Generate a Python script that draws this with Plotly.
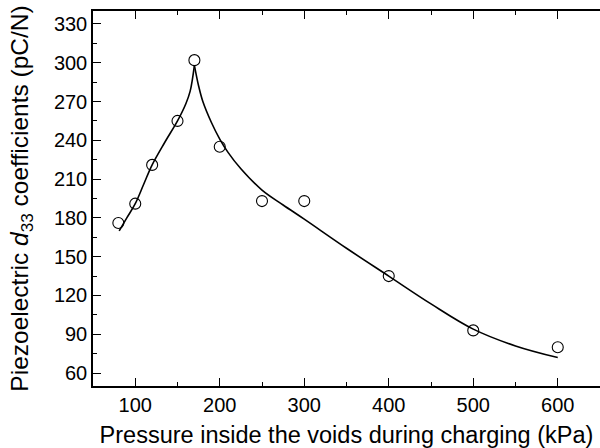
import plotly.graph_objects as go

# measured data points
pressure = [80, 100, 120, 150, 170, 200, 250, 300, 400, 500, 600]
d33 = [176, 191, 221, 255, 302, 235, 193, 193, 135, 93, 80]

# fitted curve; peak at 170 kPa
fit_x = [81, 90, 100, 110, 120, 135, 150, 160, 165, 170,
         175, 180, 190, 200, 210, 225, 250, 275, 300, 350, 400, 450, 500, 550, 600]
fit_y = [170, 180, 191, 206, 221, 238.5, 255, 268.5, 278, 298,
         282, 270, 254, 241, 230.5, 218, 201.5, 190, 179, 156.5, 135, 113.5, 94, 81, 72]

FONT = "Liberation Sans, Arial, sans-serif"
peak = fit_x.index(170)

fig = go.Figure()
for xs, ys in [(fit_x[:peak + 1], fit_y[:peak + 1]), (fit_x[peak:], fit_y[peak:])]:
    fig.add_trace(go.Scatter(x=xs, y=ys, mode="lines",
                             line=dict(color="black", width=1.6, shape="spline", smoothing=1.0),
                             showlegend=False, hoverinfo="skip"))
fig.add_trace(go.Scatter(x=pressure, y=d33, mode="markers",
                         marker=dict(symbol="circle-open", size=11, color="black",
                                     line=dict(width=1.1, color="black")),
                         showlegend=False))

fig.update_layout(
    width=600, height=448,
    margin=dict(l=93, r=0, t=11, b=62, autoexpand=False),
    paper_bgcolor="white", plot_bgcolor="white",
    font=dict(family=FONT, size=20, color="black"),
    xaxis=dict(range=[50, 650], tickvals=[100, 200, 300, 400, 500, 600],
               ticks="inside", ticklen=8, tickwidth=1.2, tickcolor="black",
               tickfont=dict(size=20),
               minor=dict(dtick=50, tick0=0, ticks="inside", ticklen=4, tickwidth=1.2, tickcolor="black"),
               showline=True, linecolor="black", linewidth=1.5, mirror="allticks",
               showgrid=False, zeroline=False, automargin=False,
               title=dict(text="Pressure inside the voids during charging (kPa)",
                          font=dict(size=23.5), standoff=13)),
    yaxis=dict(range=[50, 340], tickvals=[60, 90, 120, 150, 180, 210, 240, 270, 300, 330],
               ticks="inside", ticklen=8, tickwidth=1.2, tickcolor="black",
               tickfont=dict(size=20),
               minor=dict(dtick=15, tick0=0, ticks="inside", ticklen=4, tickwidth=1.2, tickcolor="black"),
               showline=True, linecolor="black", linewidth=1.5, mirror=False,
               showgrid=False, zeroline=False, automargin=False,
               title=dict(text="Piezoelectric <i>d</i><sub>33</sub> coefficients (pC/N)",
                          font=dict(size=24.5), standoff=18)),
)

fig.write_html("out.html", config={"displayModeBar": False},
               post_script="document.documentElement.style.overflow='hidden';"
                           "document.body.style.margin='0';document.body.style.overflow='hidden';")
